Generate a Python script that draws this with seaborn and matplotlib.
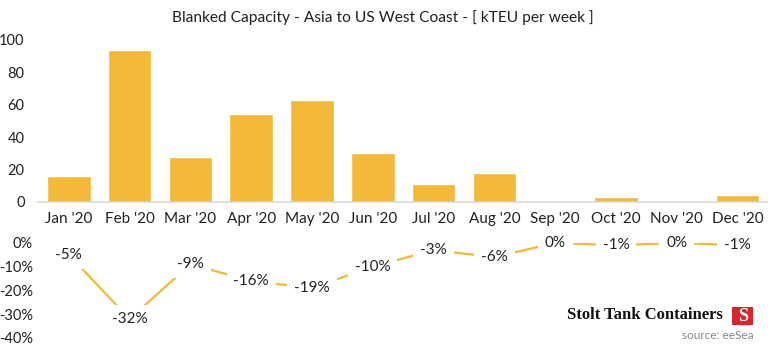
import matplotlib
matplotlib.use("Agg")
import matplotlib.pyplot as plt
import seaborn as sns
import pandas as pd
import numpy as np
from matplotlib.patches import FancyBboxPatch

months = ["Jan '20", "Feb '20", "Mar '20", "Apr '20", "May '20", "Jun '20",
          "Jul '20", "Aug '20", "Sep '20", "Oct '20", "Nov '20", "Dec '20"]
blanked_kteu = [16, 94, 28, 54, 63, 30, 11, 18, 0, 3, 0, 4]
pct_change = [-5, -32, -9, -16, -19, -10, -3, -6, 0, -1, 0, -1]
bar_yticks = [0, 20, 40, 60, 80, 100]
pct_yticks = [0, -10, -20, -30, -40]

sns.set_theme(style="white")
plt.rcParams['font.family'] = ['Lato', 'DejaVu Sans']
plt.rcParams['axes.unicode_minus'] = False

gold = "#F4B938"
line_gold = "#F0BA35"
txt = "#222222"

df = pd.DataFrame({"month": months, "kteu": blanked_kteu, "pct": pct_change})

fig = plt.figure(figsize=(7.68, 3.47), dpi=100)
ax1 = fig.add_axes([0.050, 0.418, 0.950, 0.467])
ax2 = fig.add_axes([0.050, 0.026, 0.950, 0.274])

sns.barplot(data=df, x="month", y="kteu", color=gold, width=0.72, ax=ax1,
            saturation=1)
ax1.set_xlim(-0.5, 11.5)
ax1.set_ylim(0, 100)
ax1.set_yticks(bar_yticks)
ax1.set_yticklabels([str(v) for v in bar_yticks], fontsize=10.5, color=txt)
ax1.set_xlabel("")
ax1.set_ylabel("")
ax1.tick_params(axis='x', length=0, labelsize=11, labelcolor=txt, pad=7)
ax1.tick_params(axis='y', length=0, pad=10)
for s in ["top", "right", "left"]:
    ax1.spines[s].set_visible(False)
ax1.spines["bottom"].set_color("#D9D9D9")
ax1.spines["bottom"].set_linewidth(1.2)
ax1.set_xticks(np.arange(-0.5, 12.0, 1.0), minor=True)
ax1.tick_params(axis='x', which='minor', length=4, color="#D9D9D9", width=1.2)
ax1.set_xticks(range(12))
ax1.set_xticklabels(months)

ax1.set_title("Blanked Capacity - Asia to US West Coast - [ kTEU per week ]",
              fontsize=11.2, color=txt, pad=13, x=0.472)

x = np.arange(12)
sns.lineplot(x=x, y=df["pct"], color=line_gold, linewidth=1.6, ax=ax2)
for xi, v in zip(x, pct_change):
    ax2.text(xi, v, f"{v}%", ha="center", va="center", fontsize=11, color=txt,
             bbox=dict(boxstyle="square,pad=0.45", fc="white", ec="none"))
ax2.set_xlim(-0.5, 11.5)
ax2.set_ylim(-40, 0)
ax2.set_yticks(pct_yticks)
ax2.set_yticklabels([f"{v}%" for v in pct_yticks], fontsize=10.5, color=txt)
ax2.tick_params(axis='y', length=0, pad=4)
ax2.set_xticks([])
ax2.set_xlabel("")
ax2.set_ylabel("")
for s in ax2.spines.values():
    s.set_visible(False)

fig.text(0.941, 0.092, "Stolt Tank Containers", ha="right", va="center",
         fontsize=12, fontweight="bold", family="Liberation Serif", color="#111111")
box = FancyBboxPatch((0.953, 0.063), 0.028, 0.052, boxstyle="square,pad=0",
                     transform=fig.transFigure, fc="#D7262B", ec="none")
fig.patches.append(box)
fig.text(0.967, 0.089, "S", ha="center", va="center", fontsize=13,
         fontweight="bold", family="Liberation Serif", color="white")
fig.text(0.981, 0.032, "source: eeSea", ha="right", va="center", fontsize=8.5,
         color="#888888")

fig.savefig("out.png", dpi=100, facecolor="white")
